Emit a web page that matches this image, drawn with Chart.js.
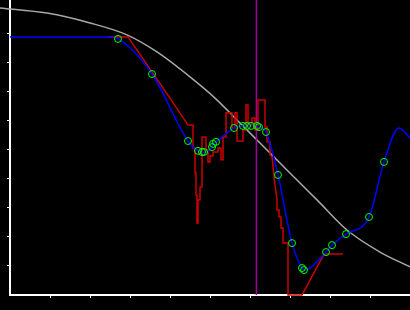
<!DOCTYPE html>
<html>
<head>
<meta charset="utf-8">
<script src="https://cdn.jsdelivr.net/npm/chart.js@4/dist/chart.umd.min.js"></script>
<style>
  html, body { margin: 0; padding: 0; background: #000; }
  #wrap { width: 410px; height: 310px; }
</style>
</head>
<body>
<div id="wrap"><canvas id="chart" width="410" height="310"></canvas></div>
<script>
// reference curve (gray)
var refX = [-2.5, 9.25, 20, 29.25, 36.75, 45, 51.25, 57.5, 62.5, 67.5, 72.5, 76.75, 84.25, 92.5, 100];
var refY = [99.0, 97.2, 93.8, 89.7, 83.8, 75.2, 67.9, 59.3, 52.4, 45.5, 38.6, 32.8, 22.4, 14.8, 9.7];

// sample points (green circles)
var ptX = [27, 35.5, 44.5, 47, 48, 48.5, 50.5, 50.75, 51.5, 56, 58.25, 59.25, 60.25, 61.75, 62.25, 64,
  67, 70.5, 73, 73.5, 79, 80.5, 84, 89.75, 93.5];
var ptY = [88.3, 76.2, 53.1, 49.7, 49.3, 49.3, 51.0, 52.1, 52.8, 57.6, 58.3, 58.3, 58.3, 58.3, 57.9, 56.2,
  41.4, 17.9, 9.3, 8.6, 14.8, 17.2, 21.0, 26.9, 45.9];

// fitted curve (blue): flat start, then the samples, then the tail
var fitHeadX = [0, 24.25];
var fitHeadY = [89.0, 89.0];
var fitTailX = [97.25, 100];
var fitTailY = [57.6, 54.1];

// raw signal (red)
var rawX = [24.5, 29.5, 40, 44.5, 45.75, 45.75, 46.25, 46.25, 46.5, 46.5, 46.75, 46.75, 47, 47, 47.5, 47.5,
  48, 48, 49, 49, 49.5, 49.5, 50, 50, 50.75, 50.75, 52, 52, 52.75, 52.75, 53.25, 53.25, 54, 54,
  55.5, 55.5, 56.25, 56.25, 56.75, 56.75, 58.25, 58.25, 59, 59, 59.5, 59.5, 60.5, 60.5, 61.25, 61.25,
  62, 62, 63.75, 63.75, 64.25, 64.25, 65, 65, 65.5, 66.25, 66.75, 66.75, 67.25, 67.25, 67.75, 67.75,
  68.25, 68.25, 69.5, 69.5, 73, 78.5, 83.25];
var rawY = [89.0, 89.0, 67.9, 58.6, 58.6, 50.7, 50.7, 42.1, 42.1, 34.5, 34.5, 24.8, 24.8, 32.8, 32.8, 37.2,
  37.2, 54.5, 54.5, 50.0, 50.0, 45.9, 45.9, 47.9, 47.9, 49.3, 49.3, 50.7, 50.7, 46.6, 46.6, 54.5, 54.5, 62.8,
  62.8, 57.6, 57.6, 62.8, 62.8, 53.1, 53.1, 56.9, 56.9, 65.5, 65.5, 58.6, 58.6, 61.0, 61.0, 56.9,
  56.9, 67.2, 67.2, 57.9, 57.9, 52.8, 52.8, 48.3, 47.6, 37.9, 32.8, 29.3, 29.3, 26.9, 26.9, 23.1,
  23.1, 17.9, 17.9, 0, 0, 14.1, 14.1];

// marker line (purple)
var markX = 61.6;
var yMax = 101.72;
var tickValues = [10, 20, 30, 40, 50, 60, 70, 80, 90];

function pts(xs, ys) {
  return xs.map(function (x, i) { return { x: x, y: ys[i] }; });
}

var fitPts = pts(fitHeadX, fitHeadY).concat(pts(ptX, ptY), pts(fitTailX, fitTailY));

var axisCommon = {
  type: 'linear',
  border: { display: true, color: '#ffffff', width: 2 },
  grid: { display: true, drawOnChartArea: false, drawTicks: true, tickLength: 3, color: '#ffffff', lineWidth: 1 },
  ticks: { display: false },
  afterBuildTicks: function (scale) {
    scale.ticks = tickValues.map(function (v) { return { value: v }; });
  }
};

var chart = new Chart(document.getElementById('chart'), {
  type: 'scatter',
  data: {
    datasets: [
      {
        data: pts(ptX, ptY), order: 0, clip: false,
        showLine: false, pointRadius: 3.5, pointBorderWidth: 1,
        pointBorderColor: '#00ff00', pointBackgroundColor: 'rgba(0,0,0,0)'
      },
      {
        data: fitPts, order: 1, clip: false,
        showLine: true, borderColor: '#0000ff', borderWidth: 1.5, pointRadius: 0,
        cubicInterpolationMode: 'monotone'
      },
      {
        data: pts(rawX, rawY), order: 2, clip: false,
        showLine: true, borderColor: '#cc0000', borderWidth: 1.5, pointRadius: 0, tension: 0
      },
      {
        data: [{ x: markX, y: 0 }, { x: markX, y: yMax }], order: 3, clip: false,
        showLine: true, borderColor: '#a000a0', borderWidth: 1.5, pointRadius: 0
      },
      {
        data: pts(refX, refY), order: 4, clip: false,
        showLine: true, borderColor: '#a8a8a8', borderWidth: 1.5, pointRadius: 0,
        cubicInterpolationMode: 'monotone'
      }
    ]
  },
  options: {
    responsive: false,
    animation: false,
    layout: { padding: 0, autoPadding: false },
    plugins: { legend: { display: false }, tooltip: { enabled: false } },
    scales: {
      x: Object.assign({}, axisCommon, {
        min: 0, max: 100,
        afterFit: function (scale) { scale.height = 15; }
      }),
      y: Object.assign({}, axisCommon, {
        min: 0, max: yMax,
        afterFit: function (scale) { scale.width = 10; }
      })
    }
  }
});

// pull the plot area out to the wanted edges if the layout left a gap
var ca = chart.chartArea;
var pad = { left: 10 - ca.left, top: -ca.top, right: ca.right - 410, bottom: ca.bottom - 295 };
if (pad.left || pad.top || pad.right || pad.bottom) {
  chart.options.layout.padding = { left: 0, top: pad.top, right: pad.right, bottom: 0 };
  chart.update();
}
</script>
</body>
</html>
